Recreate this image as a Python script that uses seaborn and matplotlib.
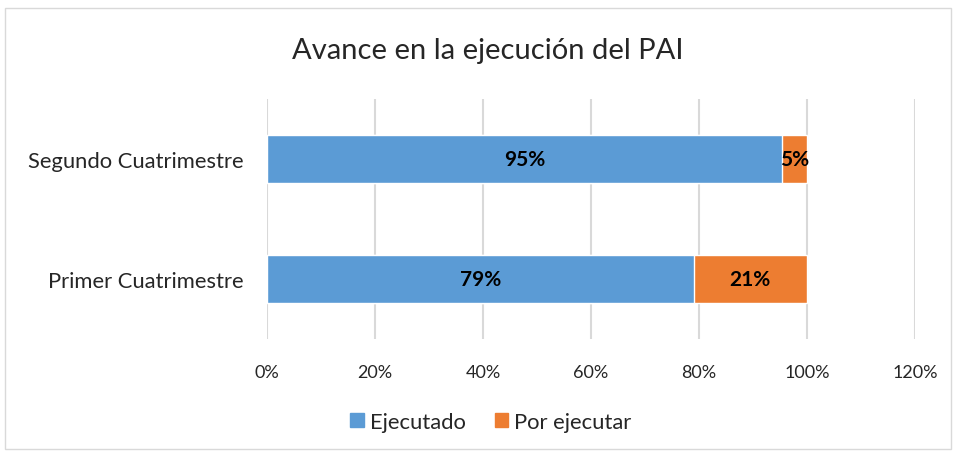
import matplotlib
matplotlib.use("Agg")
import matplotlib.pyplot as plt
import matplotlib.patches as mpatches
import seaborn as sns
import pandas as pd

# datos
categorias = ["Segundo Cuatrimestre", "Primer Cuatrimestre"]
ejecutado = [0.954, 0.79]
por_ejecutar = [0.046, 0.21]
etiquetas_ejec = ["95%", "79%"]
etiquetas_por = ["5%", "21%"]
ticks = [0, 0.2, 0.4, 0.6, 0.8, 1.0, 1.2]
tick_labels = ["0%", "20%", "40%", "60%", "80%", "100%", "120%"]

azul = "#5B9BD5"
naranja = "#ED7D31"

sns.set_style("white")
plt.rcParams["font.family"] = ["Lato", "DejaVu Sans"]

df = pd.DataFrame({"Cat": categorias, "Ejecutado": ejecutado, "Por ejecutar": por_ejecutar})
df["Total"] = df["Ejecutado"] + df["Por ejecutar"]

fig = plt.figure(figsize=(9.54, 4.52), dpi=100)
ax = fig.add_axes([267 / 954, 1 - 340 / 452, 648 / 954, 240 / 452])

sns.barplot(data=df, x="Total", y="Cat", order=categorias, color=naranja,
            width=0.4, saturation=1, ax=ax, orient="h")
sns.barplot(data=df, x="Ejecutado", y="Cat", order=categorias, color=azul,
            width=0.4, saturation=1, ax=ax, orient="h")

for i in range(len(categorias)):
    ax.text(ejecutado[i] / 2, i, etiquetas_ejec[i], ha="center", va="center",
            fontsize=15, fontweight="bold", color="black")
    ax.text(ejecutado[i] + por_ejecutar[i] / 2, i, etiquetas_por[i], ha="center",
            va="center", fontsize=15, fontweight="bold", color="black")

ax.set_xlim(0, 1.2)
ax.set_ylim(1.5, -0.5)
ax.set_xticks(ticks)
ax.set_xticklabels(tick_labels, fontsize=13)
ax.tick_params(axis="x", length=0, pad=18)
ax.tick_params(axis="y", length=0, pad=17, labelsize=15.8)
ax.set_xlabel("")
ax.set_ylabel("")
ax.grid(axis="x", color="#D9D9D9", linewidth=1.5)
ax.set_axisbelow(True)
sns.despine(ax=ax, left=True, bottom=True)

fig.text(488 / 954, 1 - 59 / 452, "Avance en la ejecución del PAI", ha="center",
         va="baseline", fontsize=21)

handles = [mpatches.Patch(color=azul, label="Ejecutado"),
           mpatches.Patch(color=naranja, label="Por ejecutar")]
fig.legend(handles=handles, loc="center", bbox_to_anchor=(491 / 954, 1 - 423 / 452),
           ncol=2, frameon=False, fontsize=15.8, handlelength=0.6, handleheight=0.6,
           handletextpad=0.3, columnspacing=1.3)

fig.add_artist(mpatches.Rectangle((5 / 954, 2 / 452), 946 / 954, 441 / 452,
                                  transform=fig.transFigure, fill=False,
                                  edgecolor="#D9D9D9", linewidth=1))

fig.savefig("out.png", dpi=100)
